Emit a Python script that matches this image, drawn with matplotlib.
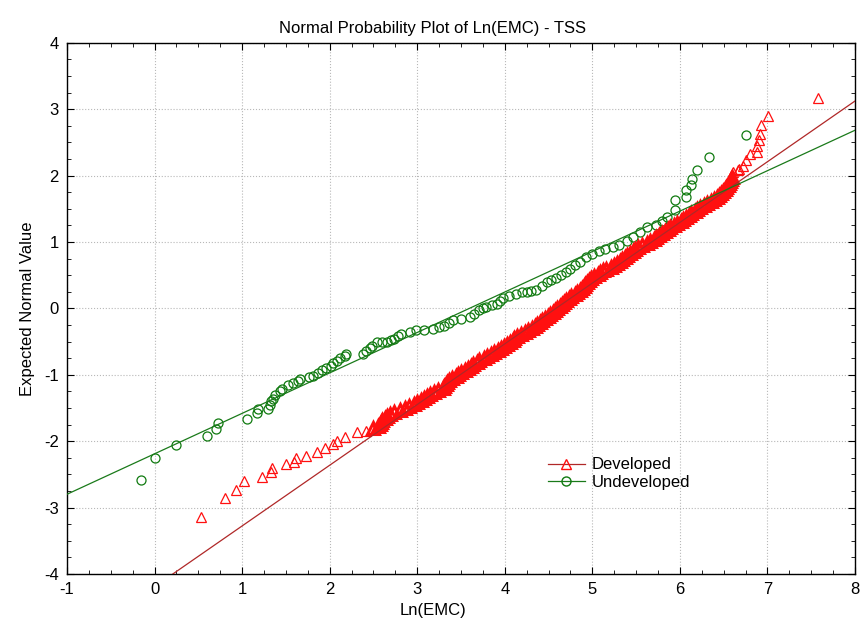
import matplotlib
matplotlib.use("Agg")
import matplotlib.pyplot as plt
from matplotlib.ticker import MultipleLocator
from matplotlib import font_manager

# font: narrow face if present
names = {f.name for f in font_manager.fontManager.ttflist}
fam = ['Liberation Sans Narrow'] if 'Liberation Sans Narrow' in names else ['Liberation Sans']
plt.rcParams['font.family'] = fam + ['DejaVu Sans']
plt.rcParams['axes.unicode_minus'] = False

title = "Normal Probability Plot of Ln(EMC) - TSS"
xlabel = "Ln(EMC)"
ylabel = "Expected Normal Value"
series_names = ["Developed", "Undeveloped"]

# Developed
dev_x = [0.53, 0.81, 0.93, 1.02, 1.23, 1.33, 1.34, 1.50, 1.59, 1.62, 1.73, 1.85, 1.95, 2.04, 2.08,
         2.17, 2.31, 2.41, 2.48,
         2.50, 2.55, 2.57, 2.59, 2.60, 2.63, 2.66, 2.69, 2.74, 2.80, 2.86, 2.91, 2.96, 3.00, 3.04,
         3.08, 3.11, 3.15, 3.19, 3.24, 3.29, 3.31, 3.33, 3.34, 3.36, 3.40, 3.44, 3.47, 3.50, 3.54,
         3.58, 3.61, 3.64, 3.68, 3.71, 3.76, 3.80, 3.84, 3.88, 3.92, 3.96, 3.99, 4.03, 4.06, 4.09,
         4.11, 4.14, 4.19, 4.23, 4.27, 4.31, 4.34, 4.37, 4.40, 4.43, 4.46, 4.49, 4.52, 4.55, 4.57,
         4.60, 4.63, 4.65, 4.68, 4.70, 4.73, 4.76, 4.80, 4.83, 4.86, 4.88, 4.90, 4.92, 4.94, 4.96,
         4.98, 5.02, 5.06, 5.09, 5.12, 5.16, 5.21, 5.25, 5.28, 5.31, 5.34, 5.37, 5.40, 5.43, 5.46,
         5.49, 5.52, 5.57, 5.62, 5.66, 5.70, 5.73, 5.76, 5.80, 5.83, 5.86, 5.89, 5.93, 5.97, 6.01,
         6.04, 6.07, 6.10, 6.13, 6.17, 6.20, 6.23, 6.27, 6.31, 6.35, 6.39, 6.42, 6.45, 6.47, 6.49,
         6.51, 6.53, 6.55, 6.56, 6.57, 6.58, 6.59,
         6.61, 6.66, 6.68, 6.72, 6.76, 6.80, 6.88, 6.88, 6.90, 6.92, 6.93, 7.01, 7.58]
dev_y = [-3.14, -2.86, -2.73, -2.60, -2.54, -2.46, -2.40, -2.34, -2.31, -2.25, -2.23, -2.16, -2.11,
         -2.04, -1.99, -1.93, -1.86, -1.84, -1.81,
         -1.80, -1.77, -1.74, -1.71, -1.68, -1.65, -1.62, -1.59, -1.56, -1.53, -1.50, -1.47, -1.44,
         -1.41, -1.38, -1.35, -1.32, -1.29, -1.26, -1.23, -1.20, -1.17, -1.14, -1.11, -1.08, -1.05,
         -1.02, -0.99, -0.96, -0.93, -0.90, -0.87, -0.84, -0.81, -0.78, -0.75, -0.72, -0.69, -0.66,
         -0.63, -0.60, -0.57, -0.54, -0.51, -0.48, -0.45, -0.42, -0.39, -0.36, -0.33, -0.30, -0.27,
         -0.24, -0.21, -0.18, -0.15, -0.12, -0.09, -0.06, -0.03, 0.00, 0.03, 0.06, 0.09, 0.12, 0.15,
         0.18, 0.21, 0.24, 0.27, 0.30, 0.33, 0.36, 0.39, 0.42, 0.45, 0.48, 0.51, 0.54, 0.57, 0.60,
         0.63, 0.66, 0.69, 0.72, 0.75, 0.78, 0.81, 0.84, 0.87, 0.90, 0.93, 0.96, 0.99, 1.02, 1.05,
         1.08, 1.11, 1.14, 1.17, 1.20, 1.23, 1.26, 1.29, 1.32, 1.35, 1.38, 1.41, 1.44, 1.47, 1.50,
         1.53, 1.56, 1.59, 1.62, 1.65, 1.68, 1.71, 1.74, 1.77, 1.80, 1.83, 1.86, 1.89, 1.92, 1.95,
         1.98,
         2.05, 2.08, 2.10, 2.15, 2.23, 2.33, 2.35, 2.44, 2.53, 2.62, 2.76, 2.89, 3.17]

# Undeveloped
und_x = [-0.16, 0.01, 0.25, 0.60, 0.70, 0.72, 1.06, 1.17, 1.18, 1.29, 1.32, 1.33, 1.35, 1.37, 1.43,
         1.46, 1.52, 1.58, 1.64, 1.66, 1.76, 1.81, 1.87, 1.91, 1.96, 2.02, 2.04, 2.08, 2.12, 2.17,
         2.19, 2.38, 2.42, 2.46, 2.48, 2.54, 2.60, 2.65, 2.70, 2.74, 2.78, 2.82, 2.92, 2.99, 3.08,
         3.18, 3.25, 3.30, 3.36, 3.41, 3.50, 3.60, 3.65, 3.70, 3.75, 3.79, 3.85, 3.91, 3.95, 3.98,
         4.05, 4.13, 4.20, 4.25, 4.30, 4.36, 4.42, 4.48, 4.53, 4.59, 4.64, 4.70, 4.75, 4.80, 4.86,
         4.93, 5.00, 5.08, 5.15, 5.24, 5.30, 5.39, 5.46, 5.54, 5.62, 5.73, 5.80, 5.85, 5.94, 5.94,
         6.07, 6.07, 6.13, 6.14, 6.19, 6.33, 6.75]
und_y = [-2.59, -2.25, -2.06, -1.92, -1.82, -1.72, -1.66, -1.58, -1.51, -1.51, -1.45, -1.40, -1.36,
         -1.30, -1.24, -1.21, -1.16, -1.12, -1.09, -1.06, -1.04, -1.02, -0.97, -0.93, -0.90, -0.87,
         -0.83, -0.80, -0.74, -0.71, -0.68, -0.68, -0.64, -0.59, -0.56, -0.51, -0.51, -0.50, -0.48,
         -0.46, -0.42, -0.38, -0.35, -0.33, -0.32, -0.31, -0.28, -0.26, -0.22, -0.18, -0.16, -0.13,
         -0.08, -0.03, 0.00, 0.02, 0.05, 0.07, 0.11, 0.15, 0.18, 0.22, 0.24, 0.25, 0.26, 0.27, 0.33,
         0.40, 0.43, 0.45, 0.50, 0.55, 0.60, 0.66, 0.70, 0.77, 0.82, 0.87, 0.89, 0.92, 0.96, 1.02,
         1.08, 1.15, 1.22, 1.25, 1.31, 1.37, 1.48, 1.63, 1.68, 1.78, 1.85, 1.95, 2.09, 2.28, 2.61]

# fitted lines (intercept, slope)
dev_fit = (-4.19, 0.914)
und_fit = (-2.19, 0.609)

fig = plt.figure(figsize=(8.67, 6.41), dpi=100)
ax = fig.add_axes([0.0773, 0.1045, 0.9089, 0.8289])

red = '#ff1010'
green = '#107a10'
line_red = '#b02828'
line_green = '#1a7a1a'

# sparse tails drawn as thin outlines, the crowded middle drawn heavier so it merges
lo, hi = 19, len(dev_x) - 13
tails_x = dev_x[:lo] + dev_x[hi:]
tails_y = dev_y[:lo] + dev_y[hi:]
ax.plot(tails_x, tails_y, linestyle='none', marker='^', markersize=7,
        markerfacecolor='none', markeredgecolor=red, markeredgewidth=0.9, zorder=3)
ax.plot(dev_x[lo:hi], dev_y[lo:hi], linestyle='none', marker='^', markersize=8,
        markerfacecolor='none', markeredgecolor=red, markeredgewidth=2.2, zorder=3)
ax.plot(und_x, und_y, linestyle='none', marker='o', markersize=6.5,
        markerfacecolor='none', markeredgecolor=green, markeredgewidth=0.9, zorder=2)

ax.axline((0, dev_fit[0]), slope=dev_fit[1], color=line_red, linewidth=0.9, zorder=4)
ax.axline((0, und_fit[0]), slope=und_fit[1], color=line_green, linewidth=0.9, zorder=4)

# legend proxies
ax.plot([], [], color=line_red, linewidth=0.9, marker='^', markersize=7,
        markerfacecolor='none', markeredgecolor=red, label=series_names[0])
ax.plot([], [], color=line_green, linewidth=0.9, marker='o', markersize=6.5,
        markerfacecolor='none', markeredgecolor=green, label=series_names[1])
ax.legend(loc='upper left', bbox_to_anchor=(0.6, 0.235), frameon=False, fontsize=12,
          handlelength=2.2, handletextpad=0.4, labelspacing=0.15, borderpad=0)

ax.set_xlim(-1, 8)
ax.set_ylim(-4, 4)
ax.xaxis.set_major_locator(MultipleLocator(1))
ax.yaxis.set_major_locator(MultipleLocator(1))
ax.xaxis.set_minor_locator(MultipleLocator(0.25))
ax.yaxis.set_minor_locator(MultipleLocator(0.25))
ax.tick_params(which='both', direction='in', top=True, right=True, labelsize=12, color='black')
ax.tick_params(which='major', length=5, pad=6)
ax.tick_params(which='minor', length=3)
ax.grid(True, which='major', linestyle=':', color='#b8b8b8', linewidth=0.8)
for s in ax.spines.values():
    s.set_linewidth(1.0)

ax.set_title(title, fontsize=12, pad=7)
ax.title.set_x(0.464)
ax.set_xlabel(xlabel, fontsize=12, labelpad=4)
ax.xaxis.label.set_x(0.464)
ax.set_ylabel(ylabel, fontsize=12, labelpad=6)

fig.savefig('out.png', dpi=100)
